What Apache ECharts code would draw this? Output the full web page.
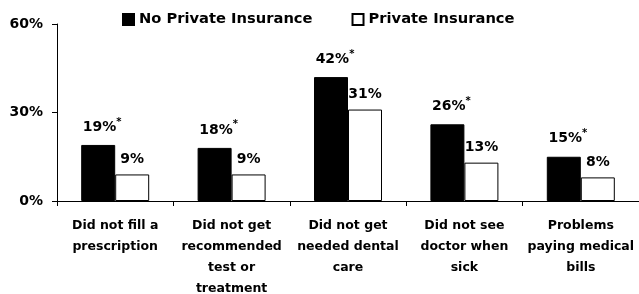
<!DOCTYPE html>
<html>
<head>
<meta charset="utf-8">
<script src="https://cdn.jsdelivr.net/npm/echarts@6/dist/echarts.min.js"></script>
<style>
  html, body { margin: 0; padding: 0; background: #fff; }
  #chart { width: 639px; height: 294px; }
</style>
</head>
<body>
<div id="chart"></div>
<script>
const categories = [
    'Did not fill a\nprescription',
    'Did not get\nrecommended\ntest or\ntreatment',
    'Did not get\nneeded dental\ncare',
    'Did not see\ndoctor when\nsick',
    'Problems\npaying medical\nbills'
];
const noPrivate = [19, 18, 42, 26, 15];
const privateIns = [9, 9, 31, 13, 8];
const yTicks = [0, 30, 60];

const font = 'DejaVu Sans';

function starLabel(params) {
    return '{v|' + params.value + '%}{s|*}';
}

let myChart = echarts.init(document.getElementById('chart'));
let option = {
    animation: false,
    backgroundColor: '#fff',
    legend: {
        left: 122,
        top: 12,
        padding: 0,
        itemWidth: 11,
        itemHeight: 11,
        itemGap: 39,
        icon: 'rect',
        textStyle: {
            fontFamily: font,
            fontWeight: 'bold',
            fontSize: 14.7,
            color: '#000'
        },
        data: ['No Private Insurance', 'Private Insurance']
    },
    grid: {
        left: 57,
        right: 0,
        top: 24,
        bottom: 93,
        outerBoundsMode: 'none',
        containLabel: false
    },
    xAxis: {
        type: 'category',
        data: categories,
        axisLine: { lineStyle: { color: '#000', width: 1 } },
        axisTick: { show: true, length: 5, lineStyle: { color: '#000' } },
        axisLabel: {
            interval: 0,
            margin: 14,
            color: '#000',
            fontFamily: font,
            fontWeight: 'bold',
            fontSize: 12.5,
            lineHeight: 21
        }
    },
    yAxis: {
        type: 'value',
        min: yTicks[0],
        max: yTicks[yTicks.length - 1],
        interval: 30,
        splitLine: { show: false },
        axisLine: { show: true, lineStyle: { color: '#000', width: 1 } },
        axisTick: { show: true, length: 5, lineStyle: { color: '#000' } },
        axisLabel: {
            margin: 14,
            formatter: '{value}%',
            color: '#000',
            fontFamily: font,
            fontWeight: 'bold',
            fontSize: 14
        }
    },
    series: [
        {
            name: 'No Private Insurance',
            type: 'bar',
            barWidth: 34,
            barGap: 0,
            data: noPrivate,
            itemStyle: { color: '#000', borderColor: '#000', borderWidth: 1 },
            label: {
                show: true,
                position: 'top',
                distance: 8,
                offset: [4, 0],
                formatter: starLabel,
                rich: {
                    v: { fontFamily: font, fontWeight: 'bold', fontSize: 14, color: '#000' },
                    s: { fontFamily: font, fontWeight: 'bold', fontSize: 10, color: '#000', padding: [0, 0, 10, 0] }
                }
            }
        },
        {
            name: 'Private Insurance',
            type: 'bar',
            barWidth: 34,
            data: privateIns,
            itemStyle: { color: '#fff', borderColor: '#000', borderWidth: 1 },
            label: {
                show: true,
                position: 'top',
                distance: 8,
                formatter: '{c}%',
                fontFamily: font,
                fontWeight: 'bold',
                fontSize: 14,
                color: '#000'
            }
        }
    ]
};
myChart.setOption(option);
</script>
</body>
</html>
